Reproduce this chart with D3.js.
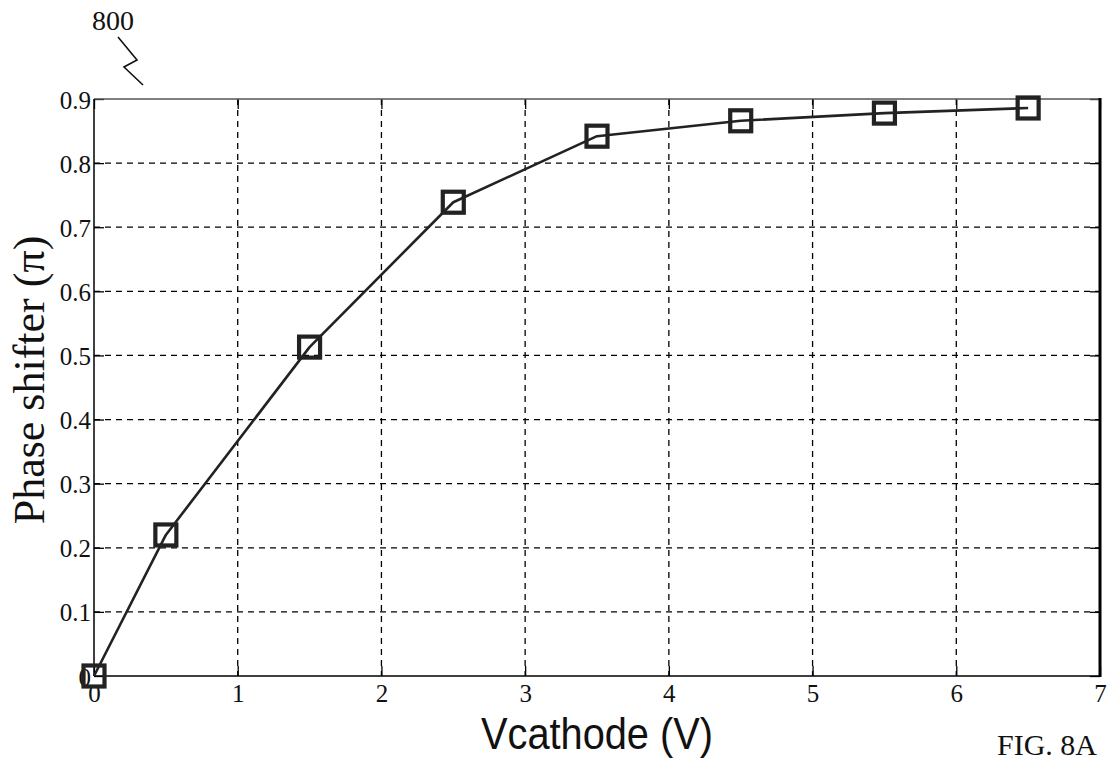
<!DOCTYPE html>
<html>
<head>
<meta charset="utf-8">
<script src="https://cdn.jsdelivr.net/npm/d3@7"></script>
<style>
  html, body { margin: 0; padding: 0; background: #fff; }
  svg { display: block; }
</style>
</head>
<body>
<svg id="chart" width="1108" height="766"></svg>
<script>
// Phase shift versus cathode voltage
const vcathode = [0, 0.5, 1.5, 2.5, 3.5, 4.5, 5.5, 6.5];
const phaseShift = [0, 0.22, 0.513, 0.739, 0.842, 0.866, 0.878, 0.886];
const xTicks = [0, 1, 2, 3, 4, 5, 6, 7];
const yTicks = [0, 0.1, 0.2, 0.3, 0.4, 0.5, 0.6, 0.7, 0.8, 0.9];

const svg = d3.select("#chart");
const plotLeft = 94, plotRight = 1100, plotTop = 99, plotBottom = 676;

const x = d3.scaleLinear().domain([0, 7]).range([plotLeft, plotRight]);
const y = d3.scaleLinear().domain([0, 0.9]).range([plotBottom, plotTop]);

const serif = "'Liberation Serif', 'Times New Roman', serif";
const ink = "#222";

// dashed grid
const grid = svg.append("g").attr("stroke", "#000").attr("stroke-width", 1.3)
  .attr("stroke-dasharray", "6,5").attr("fill", "none");
grid.selectAll("line.gx").data(xTicks.slice(1, -1)).join("line")
  .attr("x1", d => x(d)).attr("x2", d => x(d)).attr("y1", plotTop).attr("y2", plotBottom);
grid.selectAll("line.gy").data(yTicks.slice(1, -1)).join("line")
  .attr("y1", d => y(d)).attr("y2", d => y(d)).attr("x1", plotLeft).attr("x2", plotRight);

// axes with inward ticks
const fmtY = d => d === 0 ? "0" : d3.format(".1f")(d);
const gx = svg.append("g").attr("transform", `translate(0,${plotBottom})`)
  .call(d3.axisBottom(x).tickValues(xTicks).tickSize(-10).tickPadding(8).tickFormat(d3.format("d")));
const gy = svg.append("g").attr("transform", `translate(${plotLeft},0)`)
  .call(d3.axisLeft(y).tickValues(yTicks).tickSize(-10).tickPadding(3).tickFormat(fmtY));
const gxt = svg.append("g").attr("transform", `translate(0,${plotTop})`)
  .call(d3.axisTop(x).tickValues(xTicks).tickSize(-10).tickFormat(""));
const gyr = svg.append("g").attr("transform", `translate(${plotRight},0)`)
  .call(d3.axisRight(y).tickValues(yTicks).tickSize(-10).tickFormat(""));

[gx, gy, gxt, gyr].forEach(g => {
  g.select(".domain").remove();
  g.selectAll(".tick line").attr("stroke", "#000").attr("stroke-width", 1.3);
  g.selectAll("text").attr("font-family", serif).attr("font-size", 25).attr("fill", "#111");
});
gy.selectAll("text").attr("dy", "0.36em");

// frame
svg.append("line").attr("x1", plotLeft).attr("x2", plotRight).attr("y1", plotTop).attr("y2", plotTop)
  .attr("stroke", "#555").attr("stroke-width", 1.6);
svg.append("line").attr("x1", plotLeft).attr("x2", plotRight).attr("y1", plotBottom).attr("y2", plotBottom)
  .attr("stroke", "#000").attr("stroke-width", 1.5);
svg.append("line").attr("x1", plotLeft).attr("x2", plotLeft).attr("y1", plotTop).attr("y2", plotBottom)
  .attr("stroke", "#000").attr("stroke-width", 1.5);
svg.append("line").attr("x1", plotRight).attr("x2", plotRight).attr("y1", plotTop - 1).attr("y2", plotBottom + 1)
  .attr("stroke", "#000").attr("stroke-width", 3);

// data line
const pts = vcathode.map((v, i) => [v, phaseShift[i]]);
svg.append("path").datum(pts)
  .attr("fill", "none").attr("stroke", ink).attr("stroke-width", 2.6)
  .attr("stroke-linejoin", "round")
  .attr("d", d3.line().x(d => x(d[0])).y(d => y(d[1])));

// square markers
const ms = 21;
svg.append("g").selectAll("rect").data(pts).join("rect")
  .attr("x", d => x(d[0]) - ms / 2).attr("y", d => y(d[1]) - ms / 2)
  .attr("width", ms).attr("height", ms)
  .attr("fill", "none").attr("stroke", ink).attr("stroke-width", 4.2);

// axis titles
svg.append("text")
  .attr("x", (plotLeft + plotRight) / 2).attr("y", 749)
  .attr("text-anchor", "middle")
  .attr("font-family", "'Liberation Sans Narrow', 'Liberation Sans', Arial, sans-serif")
  .attr("font-size", 45).attr("fill", "#111")
  .attr("textLength", 232).attr("lengthAdjust", "spacingAndGlyphs")
  .text("Vcathode (V)");

svg.append("text")
  .attr("transform", "translate(44,380) rotate(-90)")
  .attr("text-anchor", "middle")
  .attr("font-family", serif).attr("font-size", 44).attr("fill", "#111")
  .text("Phase shifter (π)");

// figure reference label and leader
svg.append("text").attr("x", 92).attr("y", 30)
  .attr("font-family", serif).attr("font-size", 28).attr("fill", "#111").text("800");
svg.append("path")
  .attr("d", d3.line()([[118, 37], [137, 60], [124, 67], [143, 85]]))
  .attr("fill", "none").attr("stroke", "#111").attr("stroke-width", 1.6);

svg.append("text").attr("x", 997).attr("y", 755)
  .attr("font-family", serif).attr("font-size", 30).attr("fill", "#111").text("FIG. 8A");
</script>
</body>
</html>
